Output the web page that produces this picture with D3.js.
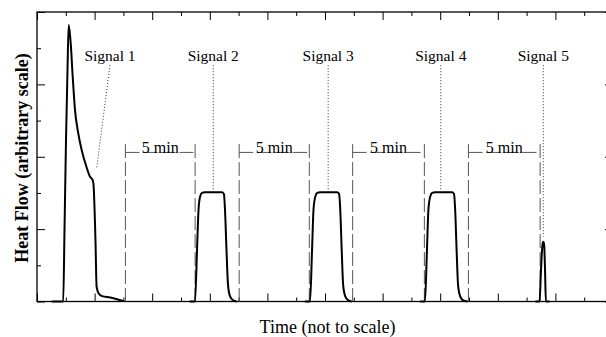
<!DOCTYPE html>
<html>
<head>
<meta charset="utf-8">
<script src="https://cdn.jsdelivr.net/npm/d3@7/dist/d3.min.js"></script>
<style>
  body { margin: 0; background: #fff; }
  svg { display: block; }
  text { font-family: "Liberation Serif", "Times New Roman", serif; fill: #000; }
</style>
</head>
<body>
<svg id="chart" width="606" height="337"></svg>
<script>
// heat flow traces, [time, heat flow] with time in tick units (not to scale)
var signal1 = [
  [0.51, 0], [0.91, 0], [0.955, 1.98], [1.007, 4.46], [1.059, 6.4], [1.1, 7.64],
  [1.17, 7.14], [1.24, 6.21], [1.32, 5.29], [1.43, 4.66], [1.55, 4.19], [1.73, 3.69],
  [1.84, 3.45], [1.93, 3.36], [1.96, 3.25], [2.03, 1.7], [2.07, 0.41], [2.135, 0.23],
  [2.26, 0.15], [2.54, 0.11], [2.81, 0.055], [3.02, 0.01]
];
var signal2 = [
  [5.3, 0], [5.486, 0], [5.556, 1.42], [5.608, 2.53], [5.66, 2.89], [5.73, 3.0],
  [5.83, 3.02], [6.42, 3.02], [6.49, 2.97], [6.528, 2.53], [6.58, 1.42], [6.632, 0.46],
  [6.7, 0.15], [6.81, 0.03], [6.93, 0]
];
var signal3 = [
  [9.3, 0], [9.48, 0], [9.55, 1.42], [9.6, 2.53], [9.66, 2.89], [9.73, 3.0],
  [9.83, 3.02], [10.42, 3.02], [10.49, 2.97], [10.53, 2.53], [10.58, 1.42], [10.63, 0.46],
  [10.7, 0.15], [10.81, 0.03], [10.93, 0]
];
var signal4 = [
  [13.3, 0], [13.47, 0], [13.54, 1.42], [13.59, 2.53], [13.65, 2.89], [13.72, 3.0],
  [13.82, 3.02], [14.41, 3.02], [14.48, 2.97], [14.52, 2.53], [14.57, 1.42], [14.62, 0.46],
  [14.69, 0.15], [14.8, 0.03], [14.95, 0]
];
var signal5 = [
  [17.3, 0], [17.45, 0], [17.5, 0.87], [17.55, 1.56], [17.58, 1.65], [17.61, 1.56],
  [17.64, 0.87], [17.67, 0], [17.8, 0]
];

var signalNames = ["Signal 1", "Signal 2", "Signal 3", "Signal 4", "Signal 5"];
// leader lines: label point -> trace point
var leaders = [
  [[2.535, 6.53], [2.073, 3.69]],
  [[6.12, 6.53], [6.12, 3.08]],
  [[10.11, 6.53], [10.11, 3.08]],
  [[14.02, 6.53], [14.02, 3.08]],
  [[17.58, 6.53], [17.58, 1.79]]
];

// waiting periods between the signals
var waits = [[3.07, 5.49], [7.02, 9.455], [10.96, 13.45], [14.98, 17.47]];
var waitLabel = "5 min";

var xTicks = d3.range(0, 21);
var yTicks = d3.range(0, 9);

var svg = d3.select("#chart");
var x = d3.scaleLinear().domain([0, 20]).range([37, 613]);
var y = d3.scaleLinear().domain([0, 8]).range([301.5, 12]);

// inward ticks, long on even steps and short on odd ones
function ticks(makeAxis, vals, parity, size) {
  return function (g) {
    g.call(makeAxis()
      .tickValues(vals.filter(function (d) { return d % 2 === parity; }))
      .tickSizeInner(-size)
      .tickSizeOuter(0)
      .tickFormat(""));
    g.select(".domain").remove();
  };
}

var axes = svg.append("g");
[
  [function () { return d3.axisTop(x); }, "translate(0," + y(8) + ")", xTicks],
  [function () { return d3.axisBottom(x); }, "translate(0," + y(0) + ")", xTicks],
  [function () { return d3.axisLeft(y); }, "translate(" + x(0) + ",0)", yTicks],
  [function () { return d3.axisRight(y); }, "translate(" + x(20) + ",0)", yTicks]
].forEach(function (a) {
  axes.append("g").attr("transform", a[1]).call(ticks(a[0], a[2], 0, 8));
  axes.append("g").attr("transform", a[1]).call(ticks(a[0], a[2], 1, 4));
});

svg.append("rect")
  .attr("x", x(0))
  .attr("y", y(8))
  .attr("width", x(20) - x(0))
  .attr("height", y(0) - y(8))
  .attr("fill", "none")
  .attr("stroke", "#000")
  .attr("stroke-width", 1.3);

// dashed brackets marking the 5 min waits
var wait = svg.append("g")
  .selectAll("g")
  .data(waits)
  .enter()
  .append("g");

wait.selectAll("line.v")
  .data(function (d) { return d; })
  .enter()
  .append("line")
  .attr("class", "v")
  .attr("x1", function (d) { return x(d); })
  .attr("x2", function (d) { return x(d); })
  .attr("y1", y(4.35))
  .attr("y2", y(0))
  .attr("stroke", "#555")
  .attr("stroke-dasharray", "14,4");

wait.append("line")
  .attr("x1", function (d) { return x(d[0]); })
  .attr("x2", function (d) { return x(d[1]); })
  .attr("y1", y(4.12))
  .attr("y2", y(4.12))
  .attr("stroke", "#555")
  .attr("stroke-dasharray", "14,4");

wait.append("text")
  .attr("x", function (d) { return (x(d[0]) + x(d[1])) / 2; })
  .attr("y", y(4.12) + 0.5)
  .attr("text-anchor", "middle")
  .style("font-size", "16px")
  .text(waitLabel);

// leaders and labels
svg.append("g")
  .selectAll("line")
  .data(leaders)
  .enter()
  .append("line")
  .attr("x1", function (d) { return x(d[0][0]); })
  .attr("y1", function (d) { return y(d[0][1]); })
  .attr("x2", function (d) { return x(d[1][0]); })
  .attr("y2", function (d) { return y(d[1][1]); })
  .attr("stroke", "#333")
  .attr("stroke-dasharray", "1,2");

svg.append("g")
  .selectAll("text")
  .data(signalNames)
  .enter()
  .append("text")
  .attr("x", function (d, i) { return x(leaders[i][0][0]); })
  .attr("y", y(6.53) - 4)
  .attr("text-anchor", "middle")
  .style("font-size", "15.5px")
  .text(function (d) { return d; });

// traces
var line = d3.line()
  .x(function (d) { return x(d[0]); })
  .y(function (d) { return y(d[1]); })
  .curve(d3.curveMonotoneX);

svg.append("g")
  .selectAll("path")
  .data([signal1, signal2, signal3, signal4, signal5])
  .enter()
  .append("path")
  .attr("d", line)
  .attr("fill", "none")
  .attr("stroke", "#000")
  .attr("stroke-width", 2)
  .attr("stroke-linejoin", "round");

// axis titles
svg.append("text")
  .attr("transform", "translate(28,158)rotate(-90)")
  .attr("text-anchor", "middle")
  .style("font-size", "18px")
  .style("font-weight", "bold")
  .text("Heat Flow (arbitrary scale)");

svg.append("text")
  .attr("x", 327.5)
  .attr("y", 333)
  .attr("text-anchor", "middle")
  .style("font-size", "18px")
  .text("Time (not to scale)");
</script>
</body>
</html>
